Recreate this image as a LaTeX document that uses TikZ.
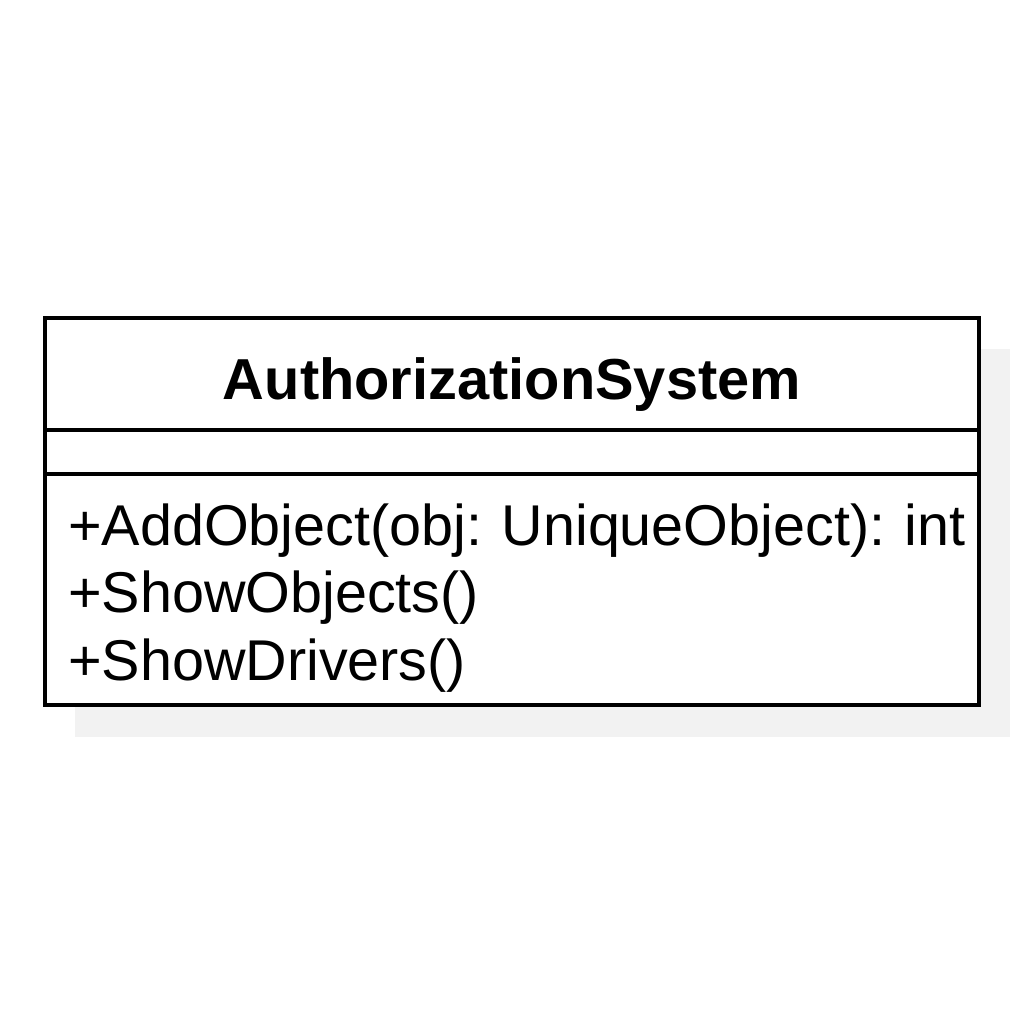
\documentclass[tikz,border=0pt]{standalone}
\usepackage{fontspec}
\setmainfont{Liberation Sans}
\definecolor{shadowgray}{RGB}{242,242,242}
\tikzset{
  umlline/.style={draw=black, line width=4pt},
  txt/.style={inner sep=0pt, font=\fontsize{57.5}{67}\selectfont},
}
\begin{document}
\begin{tikzpicture}[x=1pt,y=-1pt]
\useasboundingbox (0,0) rectangle (1024,1024);
\fill[white] (0,0) rectangle (1024,1024);
\fill[shadowgray] (75,349) rectangle (1010,737);
\filldraw[fill=white, umlline] (45,318) rectangle (979,705);
\draw[umlline] (45,430) -- (979,430);
\draw[umlline] (45,474) -- (979,474);
\node[txt, font=\fontsize{57.8}{67}\selectfont\bfseries, anchor=base] (title) at (512,399) {AuthorizationSystem};
\node[txt, anchor=base west] (m1) at (68,545) {\spaceskip=0.25em\relax +AddObject(obj: UniqueObject): int};
\node[txt, anchor=base west] (m2) at (68,612) {+ShowObjects()};
\node[txt, anchor=base west] (m3) at (68,680) {+ShowDrivers()};
\end{tikzpicture}
\end{document}
